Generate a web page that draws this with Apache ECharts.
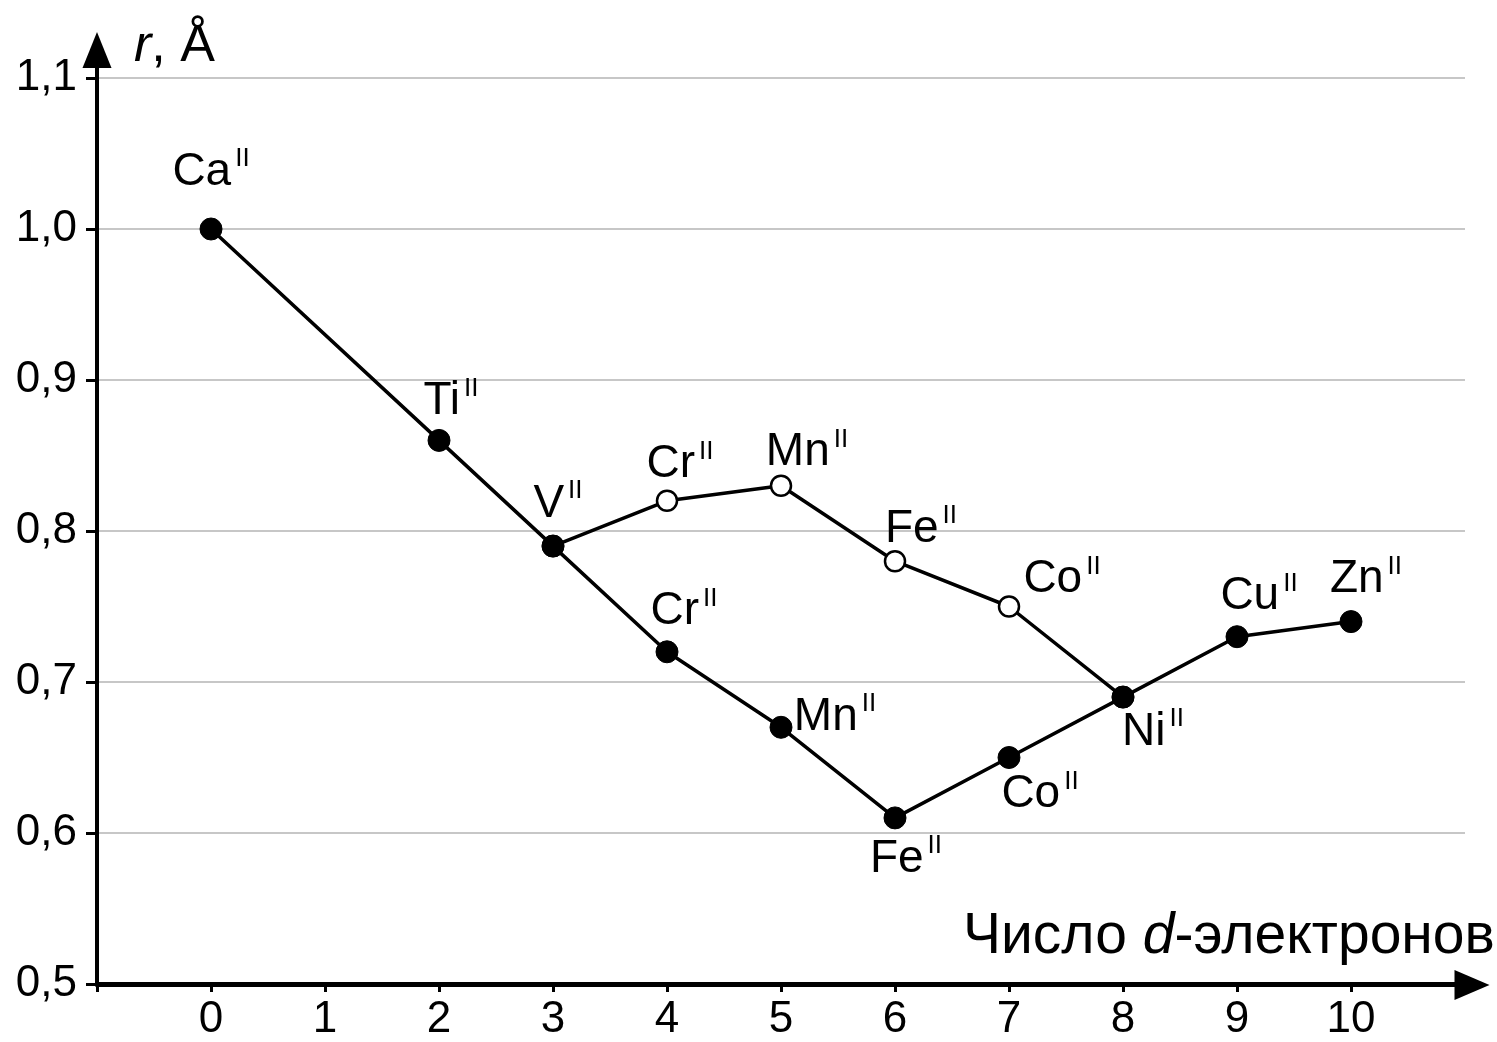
<!DOCTYPE html>
<html><head><meta charset="utf-8">
<script src="https://cdn.jsdelivr.net/npm/echarts@6/dist/echarts.min.js"></script>
<style>html,body{margin:0;padding:0;background:#fff}#c{width:1497px;height:1042px}</style>
</head><body><div id="c"></div>
<script>
// ---- data ----
const xTicks = [0,1,2,3,4,5,6,7,8,9,10];
const yTicks = [0.5,0.6,0.7,0.8,0.9,1.0,1.1];
// filled circles (lower curve)
const ionsA = ['Ca','Ti','V','Cr','Mn','Fe','Co','Ni','Cu','Zn'];
const dA    = [0,2,3,4,5,6,7,8,9,10];
const rA    = [1.00,0.86,0.79,0.72,0.67,0.61,0.65,0.69,0.73,0.74];
// open circles (upper branch)
const ionsB = ['V','Cr','Mn','Fe','Co','Ni'];
const dB    = [3,4,5,6,7,8];
const rB    = [0.79,0.82,0.83,0.78,0.75,0.69];
const charge = 'II';

// label placement (offset of label block centre from the point, px)
const offA = [[0,-57],[12,-39],[5,-42],[17,-40],[54,-10],[11,41],[31,37],[30,35],[22,-40],[15,-42]];
const offB = [null,[13,-36],[26,-33],[26,-32],[53,-27],null];

const FONT = 'Liberation Sans, Arial, Helvetica, sans-serif';
const INK = '#000';
const rich = {
  m:{fontSize:46, fontFamily:FONT, color:INK, lineHeight:52},
  s:{fontSize:26, fontFamily:FONT, color:INK, lineHeight:3, verticalAlign:'top', padding:[0,0,0,4]}
};
function labelFor(off){
  if(!off) return {show:false};
  return {show:true, position:'inside', align:'center', verticalAlign:'middle',
    offset:off, formatter:p=>'{m|'+p.name+'}{s|'+charge+'}', rich:rich};
}
const dataA = dA.map((x,i)=>({name:ionsA[i], value:[x,rA[i]], label:labelFor(offA[i])}));
const dataB = dB.map((x,i)=>({name:ionsB[i], value:[x,rB[i]], label:labelFor(offB[i])}));

const chart = echarts.init(document.getElementById('c'), null, {renderer:'canvas'});
chart.setOption({
  animation:false,
  backgroundColor:'#fff',
  title:[
    {left:129, top:13, text:'{i|r}{n|, Å}', textStyle:{fontWeight:'normal', rich:{
      i:{fontSize:52, fontStyle:'italic', fontWeight:'normal', fontFamily:FONT, color:INK, lineHeight:58},
      n:{fontSize:52, fontWeight:'normal', fontFamily:FONT, color:INK, lineHeight:58}}}},
    {left:958, top:901, text:'{n|Число }{i|d}{n|-электронов}', textStyle:{fontWeight:'normal', rich:{
      i:{fontSize:57, fontStyle:'italic', fontWeight:'normal', fontFamily:FONT, color:INK, lineHeight:62},
      n:{fontSize:57, fontWeight:'normal', fontFamily:FONT, color:INK, lineHeight:62}}}}
  ],
  grid:[
    {left:97, right:32, top:78, bottom:57},
    {left:97, right:25, top:50, bottom:57}
  ],
  xAxis:[
    {type:'value', gridIndex:0, min:-1, max:11, interval:1,
     axisLine:{show:true, onZero:false, lineStyle:{color:INK, width:4}},
     axisTick:{show:true, length:8, lineStyle:{color:INK, width:3}, customValues:[-1].concat(xTicks)},
     axisLabel:{customValues:xTicks, fontSize:44, fontFamily:FONT, color:INK, margin:14},
     splitLine:{show:false}},
    {type:'value', gridIndex:1, min:0, max:1,
     axisLine:{show:true, onZero:false, symbol:['none','triangle'], symbolSize:[30,35], lineStyle:{color:INK, width:4}},
     axisTick:{show:false}, axisLabel:{show:false}, splitLine:{show:false}}
  ],
  yAxis:[
    {type:'value', gridIndex:0, min:0.5, max:1.1, interval:0.1,
     axisLine:{show:true, onZero:false, lineStyle:{color:INK, width:4}},
     axisTick:{show:true, length:11, lineStyle:{color:INK, width:3}},
     axisLabel:{fontSize:44, fontFamily:FONT, color:INK, margin:20,
       formatter:v=>v.toFixed(1).replace('.',',')},
     splitLine:{show:true, lineStyle:{color:'#b4b4b4', width:1.5}}},
    {type:'value', gridIndex:1, min:0, max:1,
     axisLine:{show:true, onZero:false, symbol:['none','triangle'], symbolSize:[29,36], lineStyle:{color:INK, width:4}},
     axisTick:{show:false}, axisLabel:{show:false}, splitLine:{show:false}}
  ],
  series:[
    {type:'line', xAxisIndex:0, yAxisIndex:0, z:2, data:dataB,
     symbol:'circle', symbolSize:20, showAllSymbol:true,
     lineStyle:{color:INK, width:3.5},
     itemStyle:{color:'#fff', borderColor:INK, borderWidth:2.5}},
    {type:'line', xAxisIndex:0, yAxisIndex:0, z:3, data:dataA,
     symbol:'circle', symbolSize:22, showAllSymbol:true,
     lineStyle:{color:INK, width:3.5},
     itemStyle:{color:INK, borderColor:INK, borderWidth:1}}
  ]
});
</script></body></html>
